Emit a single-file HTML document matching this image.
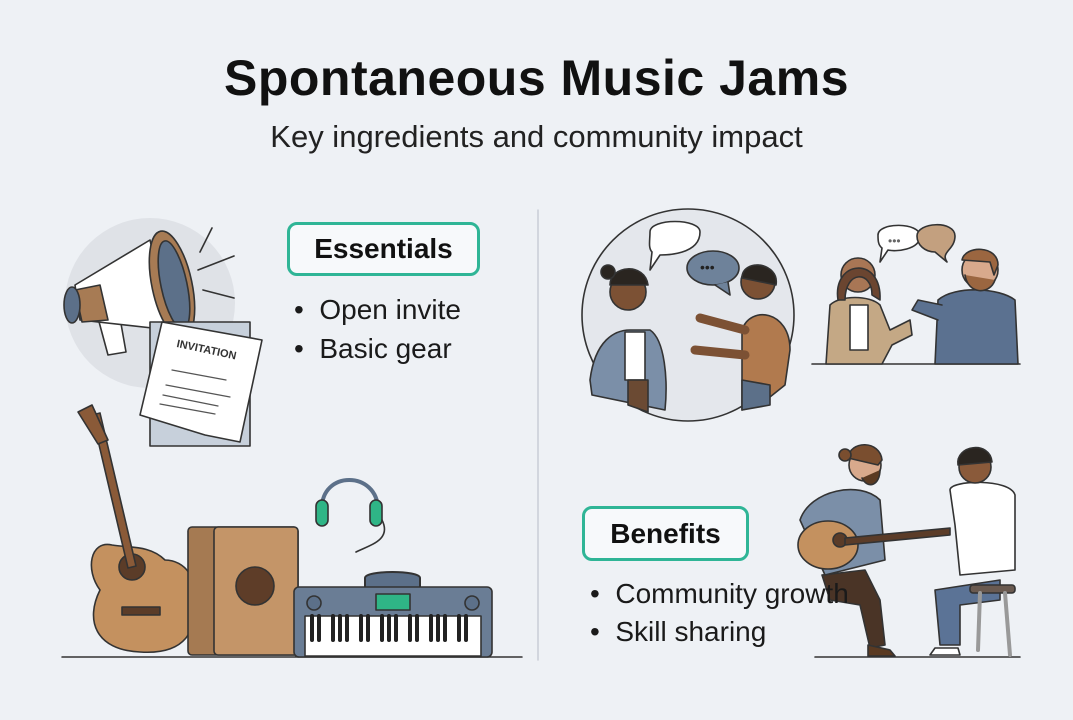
<!DOCTYPE html>
<html><head><meta charset="utf-8"><style>
html,body{margin:0;padding:0;background:#eef1f5;}
body{width:1073px;height:720px;overflow:hidden;position:relative;font-family:"Liberation Sans",sans-serif;}
.t{position:absolute;left:0;width:1073px;text-align:center;color:#111;}
.box{position:absolute;border:3px solid #2fb596;border-radius:10px;background:#f7f9fb;font-weight:bold;font-size:28px;color:#111;text-align:center;box-sizing:border-box;z-index:2;}
.b{position:absolute;font-size:28px;color:#1a1a1a;white-space:nowrap;z-index:2;}
</style></head><body>
<div class="t" style="top:49px;font-size:50px;font-weight:bold;letter-spacing:0.5px">Spontaneous Music Jams</div>
<div class="t" style="top:119px;font-size:31px;color:#222">Key ingredients and community impact</div>
<div class="box" style="left:287px;top:222px;width:193px;height:54px;line-height:48px">Essentials</div>
<div class="b" style="left:294px;top:294px">•&nbsp; Open invite</div>
<div class="b" style="left:294px;top:333px">•&nbsp; Basic gear</div>
<div class="box" style="left:582px;top:506px;width:167px;height:55px;line-height:49px">Benefits</div>
<div class="b" style="left:590px;top:578px">•&nbsp; Community growth</div>
<div class="b" style="left:590px;top:616px">•&nbsp; Skill sharing</div>
<svg width="1073" height="720" style="position:absolute;left:0;top:0;z-index:1" stroke-linejoin="round" stroke-linecap="round">
<line x1="538" y1="210" x2="538" y2="660" stroke="#c9ced6" stroke-width="1.5"/>
<g stroke="#333" stroke-width="1.6">
<line x1="62" y1="657" x2="522" y2="657" stroke-width="1.5"/>
<line x1="815" y1="657" x2="1020" y2="657"/>
<line x1="812" y1="364" x2="1020" y2="364"/>
<circle cx="150" cy="303" r="85" fill="#dfe2e7" stroke="none"/>
<path d="M200 252 L212 228 M198 270 L234 256 M203 290 L234 298" fill="none"/>
<path d="M98 318 L108 355 L126 352 L120 318Z" fill="#fff"/>
<path d="M75 285 L150 240 L170 330 L80 320Z" fill="#fff"/>
<path d="M75 290 L100 285 L108 320 L82 322Z" fill="#a77b54"/>
<ellipse cx="72" cy="305" rx="8" ry="18" fill="#5c7089"/>
<ellipse cx="172" cy="285" rx="20" ry="55" fill="#a77b54" transform="rotate(-12 172 285)"/>
<ellipse cx="174" cy="285" rx="13" ry="45" fill="#5c7089" transform="rotate(-12 174 285)"/>
<rect x="150" y="322" width="100" height="124" fill="#c7d0db"/>
<path d="M162 322 L262 340 L240 442 L205 435 L140 415Z" fill="#fff"/>
<text x="175" y="352" font-size="11" font-weight="bold" fill="#333" stroke="none" transform="rotate(12 200 355)">INVITATION</text>
<path d="M172 370 L226 380 M166 385 L230 397 M163 395 L218 406 M160 404 L215 414" stroke="#555" stroke-width="1.2"/>
<path d="M112 545 C90 540 85 570 100 590 C85 620 95 650 140 652 C185 655 200 630 190 600 C200 580 185 560 165 560 C150 545 130 548 112 545Z" fill="#c4915f"/>
<circle cx="132" cy="567" r="13" fill="#5b3c28"/>
<rect x="122" y="607" width="38" height="8" fill="#5b3c28"/>
<path d="M92 415 L128 568 L136 566 L100 413Z" fill="#8a5a38"/>
<path d="M78 412 L92 405 L108 440 L98 444Z" fill="#8a5a38"/>
<rect x="188" y="527" width="110" height="128" rx="4" fill="#a57a52"/>
<rect x="214" y="527" width="84" height="128" rx="4" fill="#c49568"/>
<circle cx="255" cy="586" r="19" fill="#5e3d28"/>
<path d="M322 510 C320 470 378 470 378 510" fill="none" stroke="#5c7089" stroke-width="4"/>
<rect x="316" y="500" width="12" height="26" rx="6" fill="#2fb586"/>
<rect x="370" y="500" width="12" height="26" rx="6" fill="#2fb586"/>
<path d="M382 520 C392 540 370 545 356 552" fill="none"/>
<path d="M365 588 L365 578 C365 570 420 570 420 578 L420 588" fill="#5c7089" stroke-width="2"/>
<rect x="294" y="587" width="198" height="70" rx="5" fill="#6a7d95"/>
<rect x="376" y="594" width="34" height="16" fill="#2fb586"/>
<circle cx="314" cy="603" r="7" fill="#5c7089"/><circle cx="472" cy="603" r="7" fill="#5c7089"/>
<rect x="305" y="616" width="176" height="40" fill="#fff"/>
<g stroke="#222" stroke-width="4">
<path d="M312 616v24M319 616v24M333 616v24M340 616v24M347 616v24M361 616v24M368 616v24M382 616v24M389 616v24M396 616v24M410 616v24M417 616v24M431 616v24M438 616v24M445 616v24M459 616v24M466 616v24"/></g>
<circle cx="688" cy="315" r="106" fill="#e4e7ec"/>
<path d="M590 380 C595 340 615 330 630 330 L650 330 C665 340 668 380 665 410 L592 395Z" fill="#7b8fa8"/>
<rect x="625" y="332" width="20" height="48" fill="#fff"/>
<path d="M628 380 L648 380 L648 412 L628 405Z" fill="#6b4a33"/>
<circle cx="628" cy="292" r="18" fill="#7c5134"/>
<path d="M610 285 C610 265 645 262 648 285 Z" fill="#2a2520"/>
<circle cx="608" cy="272" r="7" fill="#2a2520"/>
<path d="M742 410 L742 330 C750 305 790 310 790 350 L785 385 L760 405Z" fill="#b17a4e"/>
<path d="M742 380 L770 385 L770 405 L742 410Z" fill="#5c7089"/>
<circle cx="758" cy="282" r="17" fill="#7c5134"/>
<path d="M742 278 C742 258 780 262 776 285 Z" fill="#2a2520"/>
<path d="M700 318 L745 330 M695 350 L745 355" stroke="#7c5134" stroke-width="9"/>
<path d="M650 232 C650 218 700 218 700 232 C700 255 665 255 660 255 L650 270 L652 252 C648 248 650 240 650 232Z" fill="#fff"/>
<ellipse cx="713" cy="268" rx="26" ry="17" fill="#6e829a"/>
<path d="M715 285 L730 295 L728 282" fill="#6e829a"/>
<text x="700" y="272" font-size="14" fill="#222" stroke="none">•••</text>
<path d="M826 364 L830 305 C840 295 870 295 880 305 L890 330 L910 320 L912 335 L892 345 L882 364Z" fill="#c4a885"/>
<rect x="850" y="305" width="18" height="45" fill="#fff"/>
<circle cx="858" cy="275" r="17" fill="#a87655"/>
<path d="M838 300 C832 260 882 255 880 300 L872 295 C872 270 845 270 845 300Z" fill="#6b4530"/>
<path d="M935 364 L938 300 C955 285 1000 288 1015 300 L1018 364Z" fill="#5b7190"/>
<path d="M942 305 L918 300 L912 310 L938 320" fill="#5b7190"/>
<circle cx="980" cy="270" r="18" fill="#d8a98c"/>
<path d="M962 260 C965 245 998 245 998 265 L994 275 L990 262 Z" fill="#9b6640"/>
<path d="M965 275 C968 295 990 295 995 280" fill="#9b6640"/>
<path d="M878 235 C878 222 920 222 920 236 C920 250 895 252 888 250 L880 262 L882 248 C878 245 878 240 878 235Z" fill="#fff"/>
<text x="888" y="245" font-size="12" fill="#666" stroke="none">•••</text>
<path d="M917 236 C917 222 955 220 955 236 C955 250 940 252 947 262 L935 252 C925 252 917 245 917 236Z" fill="#c3a07f"/>
<path d="M822 575 L865 570 L880 600 L885 645 L870 648 L860 605 L830 600Z" fill="#4a3426"/>
<path d="M800 520 C810 490 860 480 880 500 L885 560 L825 575Z" fill="#7b8fa8"/>
<circle cx="865" cy="465" r="16" fill="#d8a98c"/>
<path d="M848 458 C850 440 880 440 882 460 L878 465 Z" fill="#7a4e2f"/>
<circle cx="845" cy="455" r="6" fill="#7a4e2f"/>
<path d="M862 478 C868 490 880 485 880 470" fill="#5a3a22"/>
<ellipse cx="828" cy="545" rx="30" ry="24" fill="#c4915f"/>
<circle cx="840" cy="540" r="7" fill="#5b3c28"/>
<path d="M845 538 L950 528 L950 535 L845 545Z" fill="#5b3c28"/>
<path d="M950 490 C950 480 1010 478 1015 495 L1015 570 L960 575 L955 525Z" fill="#fff"/>
<path d="M935 590 L1000 580 L1000 600 L960 605 L960 645 L940 645Z" fill="#5b7396"/>
<circle cx="975" cy="467" r="16" fill="#8a5a3a"/>
<path d="M958 465 C955 445 990 440 992 462 Z" fill="#2a2520"/>
<rect x="970" y="585" width="45" height="8" rx="3" fill="#6a5a50"/>
<path d="M1005 593 L1010 655 M980 593 L978 650" stroke="#999" stroke-width="4"/>
<path d="M935 648 L958 648 L960 655 L930 655Z" fill="#fff"/>
<path d="M868 645 L890 650 L895 656 L868 656Z" fill="#5a3a22"/>
</g>
</svg>
</body></html>
